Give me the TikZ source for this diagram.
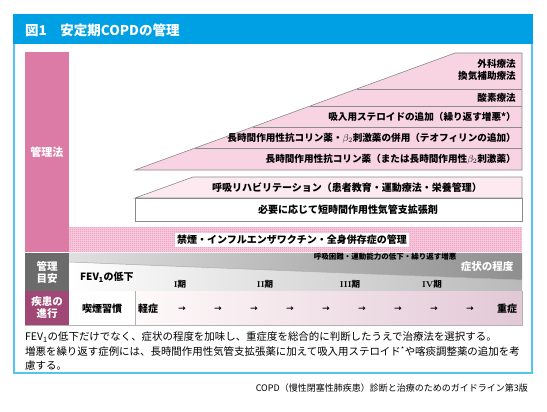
\documentclass[tikz,border=0pt]{standalone}
\usepackage{fontspec}
\newfontfamily\jp{Noto Sans CJK JP}
\usetikzlibrary{patterns,shadings}
\definecolor{titleblue}{HTML}{00A0E4}
\definecolor{framecyan}{HTML}{55C5F0}
\definecolor{colpink}{HTML}{DB7BA6}
\definecolor{wedgepink}{HTML}{F8D4E3}
\definecolor{rehabpink}{HTML}{FCEAF0}
\definecolor{checkpink}{HTML}{EE8FB8}
\definecolor{boxgray}{HTML}{6B6B6B}
\definecolor{mauve}{HTML}{A04775}
\definecolor{linegray}{HTML}{8A8A8A}
\pgfdeclarepatternformonly{checker}{\pgfpointorigin}{\pgfpoint{2pt}{2pt}}{\pgfpoint{2pt}{2pt}}{%
  \pgfpathrectangle{\pgfpointorigin}{\pgfpoint{1pt}{1pt}}%
  \pgfpathrectangle{\pgfpoint{1pt}{1pt}}{\pgfpoint{1pt}{1pt}}%
  \pgfusepath{fill}}
\tikzset{
  sidebox/.style={draw=none, text=white, font=\jp\bfseries\fontsize{11}{13}\selectfont, align=center, minimum width=44pt, inner sep=0pt},
  rowtxt/.style={font=\jp\bfseries\fontsize{9.6}{12.5}\selectfont, inner sep=0pt, align=right},
  midtxt/.style={font=\jp\bfseries\fontsize{10}{12}\selectfont, inner sep=0pt},
  wedge/.style={fill=wedgepink, draw=linegray, line width=0.6pt},
  stagetxt/.style={font=\bfseries\fontsize{8.5}{10}\selectfont, inner sep=0pt},
  arrowtxt/.style={font=\jp\bfseries\fontsize{7.5}{9}\selectfont, inner sep=0pt},
  notetxt/.style={font=\jp\fontsize{10.45}{12}\selectfont, inner sep=0pt, anchor=west},
}
\begin{document}
\begin{tikzpicture}[x=1pt,y=-1pt]
\useasboundingbox[fill=white] (0,0) rectangle (547,412);
% frame and title
\draw[draw=framecyan, line width=1.6pt, fill=white] (14,15) rectangle (532,373);
\fill[titleblue] (13.2,14.2) rectangle (532.8,44);
\node[anchor=west, text=white, font=\jp\bfseries\fontsize{13.5}{15}\selectfont, inner sep=0pt] (title) at (25,30) {図1\hspace{1em}安定期COPDの管理};
% left column
\node[sidebox, fill=colpink, minimum height=200pt] (kanrihou) at (47,152) {管理法};
\node[sidebox, fill=boxgray, minimum height=38pt, font=\jp\bfseries\fontsize{10.5}{12}\selectfont] (meyasu) at (47,272) {管理\\目安};
\node[sidebox, fill=mauve, minimum height=34pt, font=\jp\bfseries\fontsize{10.5}{12}\selectfont] (shinkou) at (47,308) {疾患の\\進行};
% big wedge
\draw[wedge] (135,170) -- (455,53) -- (522,53) -- (522,170) -- cycle;
\draw[linegray, line width=0.6pt] (356.5,89) -- (522,89);
\draw[linegray, line width=0.6pt] (310,106) -- (522,106);
\draw[linegray, line width=0.6pt] (252.6,127) -- (522,127);
\draw[linegray, line width=0.6pt] (195.2,148) -- (522,148);
\node[rowtxt, anchor=east] (geka) at (516,70) {外科療法\\換気補助療法};
\node[rowtxt, anchor=east] (sanso) at (516,97.5) {酸素療法};
\node[rowtxt, anchor=east] (steroid) at (516,117) {吸入用ステロイドの追加（繰り返す増悪*）};
\node[rowtxt, anchor=east] (heiyou) at (516,138) {長時間作用性抗コリン薬・$\beta_2$刺激薬の併用（テオフィリンの追加）};
\node[rowtxt, anchor=east] (kouchol) at (516,159) {長時間作用性抗コリン薬（または長時間作用性$\beta_2$刺激薬）};
% rehab wedge
\draw[wedge, fill=rehabpink] (135,198) -- (193,177) -- (522,177) -- (522,198) -- cycle;
\draw[linegray, line width=0.6pt, fill=white] (135,198) rectangle (522,221);
\node[midtxt] (rehab) at (347,187.5) {呼吸リハビリテーション（患者教育・運動療法・栄養管理）};
\node[midtxt] (hitsuyou) at (348,209.5) {必要に応じて短時間作用性気管支拡張剤};
% checker band
\fill[white] (69,227) rectangle (522,252);
\fill[checkpink!45] (69,227) rectangle (522,252);
\fill[pattern=checker, pattern color=checkpink] (69,227) rectangle (522,252);
\node[midtxt, fill=white, inner xsep=2pt, inner ysep=2.5pt] (kinen) at (292,240) {禁煙・インフルエンザワクチン・全身併存症の管理};
% gray row
\shade[left color=gray!25, right color=gray!88] (69,253) -- (522,253) -- (522,280) -- (69,262) -- cycle;
\shade[left color=white, right color=gray!55] (69,262) -- (522,280) -- (522,291) -- (69,291) -- cycle;
\draw[gray!70, line width=0.5pt] (69,262) -- (522,280);
\node[font=\jp\bfseries\fontsize{7.5}{8}\selectfont, inner sep=0pt] (kokyu) at (385,256.5) {呼吸困難・運動能力の低下・繰り返す増悪};
\node[font=\jp\bfseries\fontsize{10.5}{12}\selectfont, text=white, inner sep=0pt] (shoujou) at (487,267) {症状の程度};
\node[midtxt, anchor=west] (fev) at (80,277) {FEV\textsubscript{1}の低下};
\node[stagetxt] (s1) at (180,284) {I{\jp 期}};
\node[stagetxt] (s2) at (265,284) {II{\jp 期}};
\node[stagetxt] (s3) at (350,284) {III{\jp 期}};
\node[stagetxt] (s4) at (432,284) {IV{\jp 期}};
% progression row
\shade[left color=pink!8, right color=mauve!30] (135,291) rectangle (522,325);
\draw[gray!60, line width=0.6pt] (135,291) -- (135,325);
\draw[gray!60, line width=0.6pt] (25,325) -- (522,325) -- (522,291);
\node[midtxt] (kitsuen) at (102,309) {喫煙習慣};
\node[midtxt] (keishou) at (148,309) {軽症};
\foreach \i in {0,...,8} {
  \node[arrowtxt] (ar\i) at (182+36*\i,309) {→};
}
\node[midtxt] (juushou) at (507,309) {重症};
% notes
\node[notetxt] (n1) at (25,337) {FEV\textsubscript{1}の低下だけでなく、症状の程度を加味し、重症度を総合的に判断したうえで治療法を選択する。};
\node[notetxt] (n2) at (25,351.5) {増悪を繰り返す症例には、長時間作用性気管支拡張薬に加えて吸入用ステロイド\textsuperscript{*}や喀痰調整薬の追加を考};
\node[notetxt] (n3) at (25,366) {慮する。};
\node[font=\jp\fontsize{9}{10}\selectfont, inner sep=0pt, anchor=east] (src) at (528,388.5) {COPD（慢性閉塞性肺疾患）診断と治療のためのガイドライン第3版};
\end{tikzpicture}
\end{document}
